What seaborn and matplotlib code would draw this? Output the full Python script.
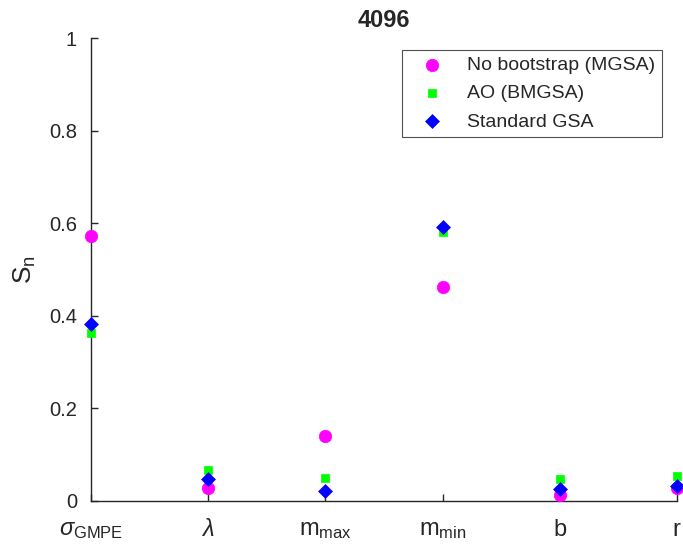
import matplotlib
matplotlib.use("Agg")
import matplotlib.pyplot as plt
import seaborn as sns
import pandas as pd

categories = [r"$\sigma_{\mathrm{GMPE}}$", r"$\lambda$", r"$\mathrm{m}_{\mathrm{max}}$",
              r"$\mathrm{m}_{\mathrm{min}}$", r"$\mathrm{b}$", r"$\mathrm{r}$"]
no_bootstrap = [0.572, 0.027, 0.141, 0.463, 0.013, 0.029]
ao_bmgsa = [0.363, 0.067, 0.050, 0.580, 0.047, 0.054]
standard_gsa = [0.382, 0.047, 0.022, 0.592, 0.026, 0.033]
series_names = ["No bootstrap (MGSA)", "AO (BMGSA)", "Standard GSA"]
y_ticks = [0, 0.2, 0.4, 0.6, 0.8, 1.0]
y_ticklabels = ["0", "0.2", "0.4", "0.6", "0.8", "1"]

sns.set_style("white")
plt.rcParams["font.family"] = ["Liberation Sans", "DejaVu Sans"]
plt.rcParams["mathtext.fontset"] = "custom"
plt.rcParams["mathtext.rm"] = "Liberation Sans"
plt.rcParams["mathtext.it"] = "Liberation Sans:italic"
plt.rcParams["mathtext.bf"] = "Liberation Sans:bold"

fig = plt.figure(figsize=(6.83, 5.49), dpi=100)
ax = fig.add_axes([91/683, 48/549, (677-91)/683, (501-38)/549])

x = list(range(len(categories)))
styles = [("#ff00ff", "o", 80), ("#00ff00", "s", 38), ("#0000ff", "D", 50)]
for name, vals, (c, m, s) in zip(series_names, [no_bootstrap, ao_bmgsa, standard_gsa], styles):
    df = pd.DataFrame({"x": x, "y": vals})
    sns.scatterplot(data=df, x="x", y="y", ax=ax, color=c, marker=m, s=s,
                    edgecolor=c, linewidth=0.5, label=name, zorder=3, clip_on=False)

ax.set_xlim(0, 5)
ax.set_ylim(0, 1)
ax.set_xticks(x)
ax.set_xticklabels(categories, fontsize=17)
ax.set_yticks(y_ticks)
ax.set_yticklabels(y_ticklabels, fontsize=14.5)
ax.tick_params(axis="both", direction="in", length=5, width=1, colors="#262626",
               bottom=True, left=True)
ax.tick_params(axis="x", pad=13)
ax.tick_params(axis="y", pad=10)
for sp in ["top", "right"]:
    ax.spines[sp].set_visible(False)
for sp in ["left", "bottom"]:
    ax.spines[sp].set_color("#262626")
    ax.spines[sp].set_linewidth(1)
ax.set_xlabel("")
ax.set_ylabel(r"$\mathrm{S}_{\mathrm{n}}$", fontsize=19, color="#262626", labelpad=8)
ax.set_title("4096", fontsize=17, fontweight="bold", pad=8)

leg = ax.legend(loc="upper right", bbox_to_anchor=(0.975, 0.975), fontsize=14,
                frameon=True, fancybox=False, edgecolor="#262626", borderpad=0.35,
                handlelength=2.4, handletextpad=0.6, labelspacing=0.55, borderaxespad=0)
leg.get_frame().set_linewidth(0.8)

fig.savefig("out.png", dpi=100)
